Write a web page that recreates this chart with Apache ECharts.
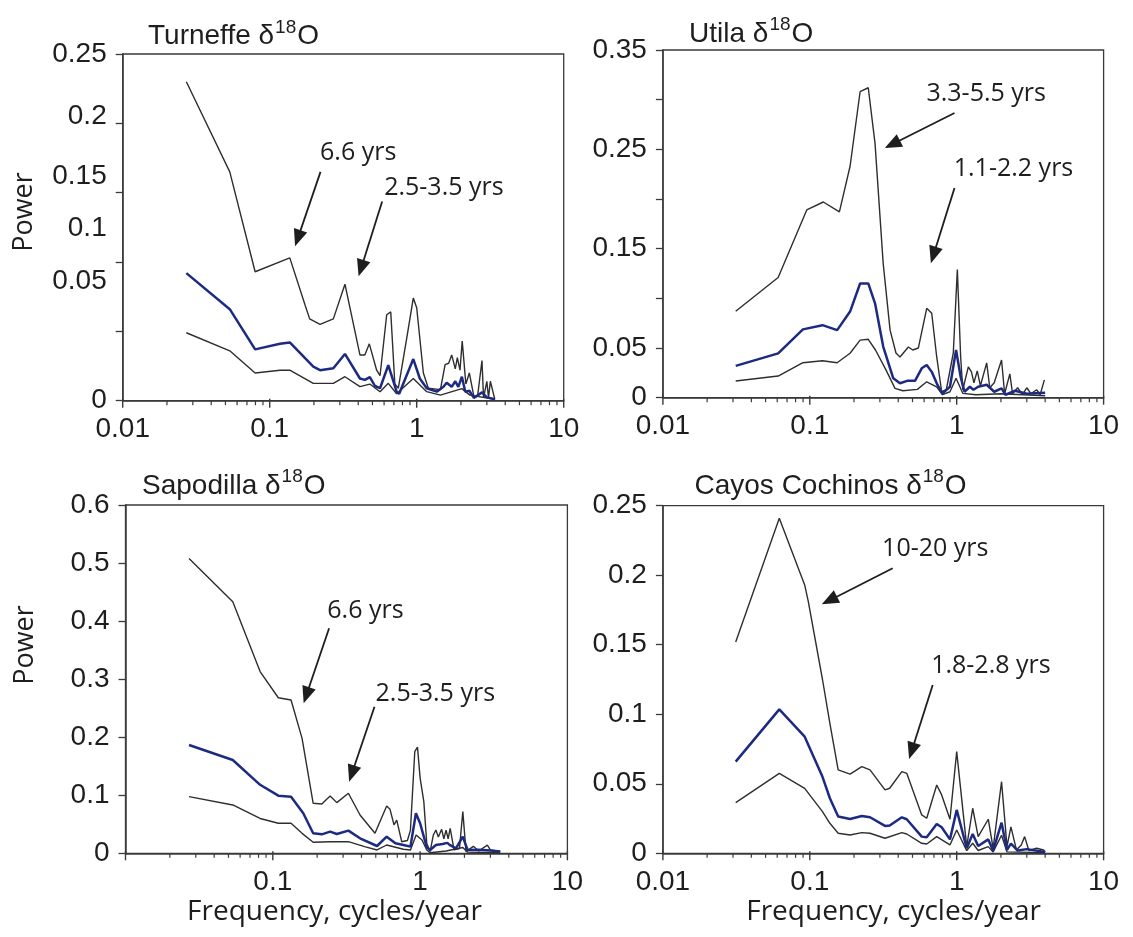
<!DOCTYPE html>
<html>
<head>
<meta charset="utf-8">
<title>Power spectra of coral δ18O records</title>
<script src="https://cdn.jsdelivr.net/npm/echarts@6.0.0/dist/echarts.min.js"></script>
<style>
  html, body { margin: 0; padding: 0; background: #ffffff; }
  #chart { width: 1133px; height: 937px; }
</style>
</head>
<body>
<div id="chart"></div>
<script>
// ---- Spectra: [frequency (cycles/year), power]; upper bound, spectrum, lower bound ----
const turneffeUpper = [[0.0271,0.230],[0.0535,0.165],[0.0796,0.093],[0.137,0.103],[0.174,0.069],[0.187,0.059],[0.220,0.055],[0.271,0.059],[0.325,0.084],[0.411,0.033],[0.444,0.033],[0.476,0.041],[0.534,0.022],[0.563,0.018],[0.625,0.062],[0.666,0.064],[0.71,0.012],[0.75,0.009],[0.855,0.045],[0.948,0.074],[1.0,0.067],[1.11,0.020],[1.20,0.009],[1.45,0.008],[1.56,0.026],[1.65,0.027],[1.73,0.033],[1.83,0.023],[1.89,0.031],[1.97,0.022],[2.04,0.043],[2.16,0.012],[2.28,0.020],[2.45,0.003],[2.6,0.004],[2.78,0.029],[2.85,0.002],[3.0,0.014],[3.08,0.002],[3.17,0.014],[3.4,0.001]];
const turneffeSpectrum = [[0.0271,0.092],[0.0535,0.066],[0.0796,0.037],[0.1175,0.041],[0.137,0.042],[0.198,0.0245],[0.22,0.022],[0.271,0.0234],[0.325,0.0337],[0.411,0.016],[0.444,0.015],[0.48,0.017],[0.52,0.0106],[0.563,0.009],[0.641,0.0257],[0.73,0.0065],[0.76,0.005],[0.948,0.030],[1.05,0.016],[1.17,0.009],[1.37,0.0065],[1.52,0.010],[1.6,0.013],[1.73,0.010],[1.83,0.014],[1.92,0.010],[2.03,0.0173],[2.14,0.0065],[2.28,0.0072],[2.45,0.002],[2.78,0.006],[3.0,0.0024],[3.4,0.001]];
const turneffeLower = [[0.0271,0.049],[0.0535,0.036],[0.0796,0.020],[0.1175,0.022],[0.137,0.022],[0.198,0.0125],[0.271,0.0125],[0.325,0.0173],[0.411,0.0101],[0.48,0.012],[0.563,0.0065],[0.641,0.0125],[0.73,0.005],[0.948,0.016],[1.17,0.0065],[1.45,0.004],[2.03,0.0087],[2.3,0.004],[3.4,0.001]];

const utilaUpper = [[0.0313,0.087],[0.0609,0.121],[0.0953,0.189],[0.1236,0.197],[0.159,0.187],[0.188,0.233],[0.22,0.308],[0.25,0.312],[0.278,0.256],[0.316,0.135],[0.352,0.068],[0.386,0.045],[0.411,0.041],[0.469,0.051],[0.502,0.048],[0.548,0.050],[0.625,0.090],[0.676,0.085],[0.731,0.041],[0.79,0.006],[0.85,0.008],[0.948,0.045],[1.01,0.129],[1.064,0.041],[1.1,0.008],[1.2,0.031],[1.26,0.026],[1.31,0.015],[1.38,0.027],[1.45,0.012],[1.6,0.035],[1.68,0.010],[1.8,0.015],[2.02,0.038],[2.12,0.004],[2.3,0.024],[2.4,0.004],[2.6,0.010],[2.8,0.003],[3.0,0.010],[3.2,0.004],[3.5,0.008],[3.7,0.003],[3.95,0.018]];
const utilaSpectrum = [[0.0313,0.032],[0.0609,0.0446],[0.0898,0.0688],[0.122,0.073],[0.1535,0.068],[0.188,0.0867],[0.22,0.115],[0.25,0.115],[0.278,0.095],[0.316,0.0515],[0.37,0.0195],[0.411,0.0145],[0.46,0.017],[0.52,0.017],[0.578,0.0296],[0.625,0.033],[0.676,0.026],[0.74,0.0128],[0.8,0.0044],[0.9,0.011],[0.99,0.048],[1.064,0.021],[1.13,0.006],[1.23,0.011],[1.3,0.008],[1.4,0.011],[1.6,0.013],[1.8,0.006],[2.02,0.0094],[2.15,0.003],[2.5,0.007],[3.0,0.004],[4.0,0.005]];
const utilaLower = [[0.0313,0.0168],[0.0609,0.0218],[0.0898,0.0352],[0.122,0.0372],[0.1535,0.0352],[0.188,0.0447],[0.22,0.058],[0.25,0.0588],[0.28,0.048],[0.33,0.028],[0.38,0.0094],[0.43,0.007],[0.54,0.0084],[0.625,0.016],[0.73,0.011],[0.8,0.003],[0.9,0.006],[0.99,0.0195],[1.1,0.0044],[1.35,0.003],[2.0,0.004],[4.0,0.002]];

const sapodillaUpper = [[0.027,0.508],[0.0535,0.4335],[0.082,0.313],[0.109,0.268],[0.133,0.264],[0.158,0.198],[0.188,0.0861],[0.215,0.085],[0.245,0.0988],[0.272,0.0873],[0.326,0.1034],[0.391,0.066],[0.494,0.0345],[0.593,0.0815],[0.625,0.0758],[0.665,0.049],[0.694,0.057],[0.75,0.020],[0.82,0.022],[0.86,0.04],[0.92,0.175],[0.96,0.183],[1.0,0.13],[1.06,0.089],[1.11,0.017],[1.17,0.003],[1.23,0.0316],[1.28,0.040],[1.33,0.028],[1.40,0.0413],[1.45,0.025],[1.5,0.040],[1.55,0.025],[1.6,0.043],[1.7,0.006],[1.85,0.008],[1.95,0.0718],[2.05,0.003],[2.3,0.012],[2.5,0.004],[2.86,0.014],[3.0,0.006],[3.5,0.003]];
const sapodillaSpectrum = [[0.027,0.1866],[0.0535,0.1608],[0.082,0.118],[0.109,0.0993],[0.133,0.0976],[0.161,0.069],[0.188,0.0345],[0.215,0.0327],[0.245,0.0373],[0.272,0.0333],[0.326,0.039],[0.391,0.0258],[0.51,0.0126],[0.593,0.0287],[0.68,0.0172],[0.77,0.0143],[0.86,0.0115],[0.937,0.069],[1.0,0.0517],[1.11,0.0103],[1.17,0.0057],[1.28,0.0143],[1.42,0.016],[1.53,0.018],[1.6,0.014],[1.75,0.0086],[1.95,0.0287],[2.1,0.0057],[2.5,0.006],[3.0,0.005],[3.5,0.003]];
const sapodillaLower = [[0.027,0.0976],[0.0535,0.0833],[0.082,0.060],[0.109,0.0517],[0.133,0.0517],[0.158,0.0344],[0.188,0.019],[0.245,0.020],[0.326,0.020],[0.42,0.0115],[0.51,0.0057],[0.593,0.0143],[0.77,0.0069],[0.86,0.0057],[0.94,0.0316],[1.03,0.023],[1.11,0.0057],[1.17,0.001],[1.5,0.004],[1.95,0.010],[2.1,0.002],[3.5,0.001]];

const cayosUpper = [[0.0313,0.152],[0.062,0.241],[0.0923,0.193],[0.0977,0.181],[0.122,0.125],[0.137,0.0935],[0.156,0.060],[0.188,0.057],[0.226,0.0623],[0.257,0.060],[0.325,0.0456],[0.35,0.0468],[0.423,0.0587],[0.457,0.0575],[0.578,0.0276],[0.625,0.0252],[0.731,0.0491],[0.79,0.042],[0.9,0.0245],[1.0,0.0731],[1.17,0.0048],[1.285,0.0324],[1.4,0.012],[1.64,0.0245],[1.77,0.0036],[2.02,0.0515],[2.2,0.005],[2.34,0.019],[2.55,0.0024],[2.75,0.006],[2.9,0.012],[3.1,0.002],[3.5,0.0036],[3.9,0.0024],[4.0,0.001]];
const cayosSpectrum = [[0.0313,0.0659],[0.062,0.1035],[0.0923,0.0839],[0.122,0.055],[0.137,0.0396],[0.156,0.0264],[0.188,0.0247],[0.226,0.0268],[0.257,0.0259],[0.325,0.0197],[0.35,0.020],[0.423,0.0259],[0.457,0.0245],[0.578,0.012],[0.625,0.0115],[0.731,0.0211],[0.79,0.0187],[0.9,0.010],[1.0,0.0312],[1.17,0.0036],[1.285,0.0139],[1.4,0.0053],[1.64,0.010],[1.77,0.002],[2.02,0.022],[2.2,0.0024],[2.34,0.007],[2.6,0.002],[3.0,0.003],[4.0,0.001]];
const cayosLower = [[0.0313,0.0364],[0.062,0.0575],[0.0923,0.0467],[0.122,0.030],[0.137,0.0216],[0.156,0.0144],[0.188,0.0132],[0.226,0.0149],[0.257,0.0144],[0.325,0.0108],[0.423,0.0149],[0.457,0.0139],[0.578,0.0072],[0.625,0.0067],[0.731,0.012],[0.9,0.006],[1.0,0.0168],[1.17,0.0019],[1.285,0.0072],[1.4,0.002],[1.64,0.0048],[1.77,0.001],[2.02,0.013],[2.2,0.001],[4.0,0.0005]];

// ---- Axis ticks ----
const freqMajorTicks = [0.01, 0.1, 1, 10];
const freqMinorTicks = [0.02,0.03,0.04,0.05,0.06,0.07,0.08,0.09,0.2,0.3,0.4,0.5,0.6,0.7,0.8,0.9,2,3,4,5,6,7,8,9];
const turneffeTickLabels = ['0','0.05','0.1','0.15','0.2','0.25'];
const utilaTickLabels = ['0','0.05','0.15','0.25','0.35'];
const sapodillaTickLabels = ['0','0.1','0.2','0.3','0.4','0.5','0.6'];
const cayosTickLabels = ['0','0.05','0.1','0.15','0.2','0.25'];

// ---- Styling ----
const INK = '#1e1e1e';
const FRAME = '#3a3a3a';
const BOUND = '#2e2e2e';
const BLUE = '#1d2a82';
const SANS = '"Liberation Sans", Arial, sans-serif';
const HUMANIST = '"Open Sans", "Noto Sans", sans-serif';

const panels = [
  {
    name: 'Turneffe', upper: turneffeUpper, spectrum: turneffeSpectrum, lower: turneffeLower,
    yMax: 0.25, yStep: 0.05, tickLabels: turneffeTickLabels,
    // labels on this axis sit between the ticks, not on them
    labelAt: [0, 0.0858, 0.1245, 0.1615, 0.2048, 0.2495],
    box: { left: 122.7, top: 54, width: 441, height: 346.7 },
    showMinFreq: true, titleAt: [148, 36.5], yNameAt: [24, 212], xNameAt: null,
    notes: [
      { text: '6.6 yrs', at: [0.40, 0.179], from: [0.2216, 0.165], to: [0.1488, 0.1113] },
      { text: '2.5-3.5 yrs', at: [1.531, 0.1538], from: [0.582, 0.1436], to: [0.4025, 0.0897] }
    ]
  },
  {
    name: 'Utila', upper: utilaUpper, spectrum: utilaSpectrum, lower: utilaLower,
    yMax: 0.35, yStep: 0.05, tickLabels: utilaTickLabels, labelAt: null,
    box: { left: 662.9, top: 50, width: 440.7, height: 347.7 },
    showMinFreq: true, titleAt: [689, 34], yNameAt: null, xNameAt: null,
    notes: [
      { text: '3.3-5.5 yrs', at: [1.588, 0.306], from: [0.966, 0.2866], to: [0.3236, 0.2513] },
      { text: '1.1-2.2 yrs', at: [2.436, 0.2305], from: [0.966, 0.211], to: [0.6675, 0.1354] }
    ]
  },
  {
    name: 'Sapodilla', upper: sapodillaUpper, spectrum: sapodillaSpectrum, lower: sapodillaLower,
    yMax: 0.6, yStep: 0.1, tickLabels: sapodillaTickLabels, labelAt: null,
    box: { left: 125.5, top: 505, width: 441.9, height: 348.3 },
    showMinFreq: false, titleAt: [142, 486], yNameAt: [25.5, 645], xNameAt: [334.5, 912],
    notes: [
      { text: '6.6 yrs', at: [0.4258, 0.418], from: [0.2411, 0.3876], to: [0.1619, 0.2584] },
      { text: '2.5-3.5 yrs', at: [1.268, 0.2744], from: [0.4903, 0.2525], to: [0.3296, 0.1233] }
    ]
  },
  {
    name: 'Cayos Cochinos', upper: cayosUpper, spectrum: cayosSpectrum, lower: cayosLower,
    yMax: 0.25, yStep: 0.05, tickLabels: cayosTickLabels, labelAt: null,
    box: { left: 662.9, top: 505.7, width: 440.7, height: 347.6 },
    showMinFreq: true, titleAt: [694.5, 486], yNameAt: null, xNameAt: [893.6, 911.7],
    notes: [
      { text: '10-20 yrs', at: [0.715, 0.2189], from: [0.3667, 0.205], to: [0.1207, 0.1791] },
      { text: '1.8-2.8 yrs', at: [1.709, 0.1349], from: [0.6866, 0.121], to: [0.4742, 0.0678] }
    ]
  }
];

const chart = echarts.init(document.getElementById('chart'), null, { renderer: 'canvas' });

const option = {
  animation: false,
  backgroundColor: '#ffffff',
  grid: [], xAxis: [], yAxis: [], series: []
};

panels.forEach((p, i) => {
  option.grid.push({
    left: p.box.left, top: p.box.top, width: p.box.width, height: p.box.height,
    show: true, borderColor: FRAME, borderWidth: 1.3, backgroundColor: 'transparent'
  });

  // frequency axis (log); its tick marks are drawn below with the annotations
  option.xAxis.push({
    gridIndex: i, type: 'log', logBase: 10, min: 0.01, max: 10, position: 'bottom',
    axisLine: { show: true, onZero: false, lineStyle: { color: FRAME, width: 1.5 } },
    axisTick: { show: false },
    axisLabel: {
      show: true, showMinLabel: p.showMinFreq, margin: 15,
      fontFamily: SANS, fontSize: 28, color: INK,
      formatter: v => String(parseFloat(Number(v).toPrecision(6)))
    },
    splitLine: { show: false }, minorTick: { show: false }
  });

  const labelValues = p.labelAt || p.tickLabels.map(Number);
  option.yAxis.push({
    gridIndex: i, type: 'value', min: 0, max: p.yMax, interval: p.yStep,
    axisLine: { show: true, onZero: false, lineStyle: { color: FRAME, width: 1.5 } },
    axisTick: { show: true, length: 7, lineStyle: { color: FRAME, width: 1.3 } },
    axisLabel: {
      show: true, margin: 16, fontFamily: SANS, fontSize: 28, color: INK,
      customValues: labelValues,
      formatter: v => {
        let best = 0;
        labelValues.forEach((lv, k) => { if (Math.abs(lv - v) < Math.abs(labelValues[best] - v)) best = k; });
        return p.tickLabels[best];
      }
    },
    splitLine: { show: false }
  });

  const line = (data, color, width, z) => ({
    type: 'line', xAxisIndex: i, yAxisIndex: i, data,
    showSymbol: false, symbol: 'none', silent: true, z,
    lineStyle: { color, width }
  });
  option.series.push(line(p.upper, BOUND, 1.4, 2));
  option.series.push(line(p.lower, BOUND, 1.4, 2));
  option.series.push(line(p.spectrum, BLUE, 2.5, 3));
});

chart.setOption(option);

// ---- Frequency ticks, titles, axis names and annotations ----
const measureCtx = document.createElement('canvas').getContext('2d');
function textWidth(text, size, family) {
  measureCtx.font = size + 'px ' + family;
  return measureCtx.measureText(text).width;
}

function arrow(from, tip) {
  const dx = tip[0] - from[0], dy = tip[1] - from[1];
  const len = Math.hypot(dx, dy), ux = dx / len, uy = dy / len;
  const headLen = 17, headHalf = 7;
  const bx = tip[0] - ux * headLen, by = tip[1] - uy * headLen;
  return [
    { type: 'line', silent: true, z: 10,
      shape: { x1: from[0], y1: from[1], x2: bx + ux * 3, y2: by + uy * 3 },
      style: { stroke: INK, lineWidth: 1.8 } },
    { type: 'polygon', silent: true, z: 10,
      shape: { points: [[tip[0], tip[1]], [bx - uy * headHalf, by + ux * headHalf], [bx + uy * headHalf, by - ux * headHalf]] },
      style: { fill: INK } }
  ];
}

function titleGraphics(name, at) {
  const main = name + ' δ';
  const big = 28, small = 19;
  const w1 = textWidth(main, big, SANS);
  const w2 = textWidth('18', small, SANS);
  const base = { fontFamily: SANS, fill: INK, align: 'left', verticalAlign: 'middle' };
  return [
    { type: 'text', x: at[0], y: at[1], silent: true, style: Object.assign({ text: main, fontSize: big }, base) },
    { type: 'text', x: at[0] + w1 + 1, y: at[1] - 9, silent: true, style: Object.assign({ text: '18', fontSize: small }, base) },
    { type: 'text', x: at[0] + w1 + w2 + 2, y: at[1], silent: true, style: Object.assign({ text: 'O', fontSize: big }, base) }
  ];
}

const graphics = [];
panels.forEach((p, i) => {
  const toPx = pt => chart.convertToPixel({ xAxisIndex: i, yAxisIndex: i }, pt);

  // decade ticks cross the axis, the 2..9 ticks hang below it
  freqMajorTicks.forEach(f => {
    const [x, y] = toPx([f, 0]);
    graphics.push({ type: 'line', silent: true, z: 5,
      shape: { x1: x, y1: y - 2, x2: x, y2: y + 7 }, style: { stroke: FRAME, lineWidth: 1.4 } });
  });
  freqMinorTicks.forEach(f => {
    const [x, y] = toPx([f, 0]);
    graphics.push({ type: 'line', silent: true, z: 5,
      shape: { x1: x, y1: y, x2: x, y2: y + 4.5 }, style: { stroke: FRAME, lineWidth: 1.2 } });
  });

  titleGraphics(p.name, p.titleAt).forEach(g => graphics.push(g));

  if (p.yNameAt) {
    graphics.push({
      type: 'text', x: p.yNameAt[0], y: p.yNameAt[1], rotation: Math.PI / 2, silent: true,
      style: { text: 'Power', fontFamily: HUMANIST, fontSize: 27, fill: INK, align: 'center', verticalAlign: 'middle' }
    });
  }
  if (p.xNameAt) {
    graphics.push({
      type: 'text', x: p.xNameAt[0], y: p.xNameAt[1], silent: true,
      style: { text: 'Frequency, cycles/year', fontFamily: HUMANIST, fontSize: 28, fill: INK, align: 'center', verticalAlign: 'middle' }
    });
  }

  p.notes.forEach(n => {
    const at = toPx(n.at);
    graphics.push({
      type: 'text', x: at[0], y: at[1], silent: true, z: 10,
      style: { text: n.text, fontFamily: HUMANIST, fontSize: 25, fill: INK, align: 'center', verticalAlign: 'middle' }
    });
    arrow(toPx(n.from), toPx(n.to)).forEach(g => graphics.push(g));
  });
});

chart.setOption({ graphic: graphics });
</script>
</body>
</html>
